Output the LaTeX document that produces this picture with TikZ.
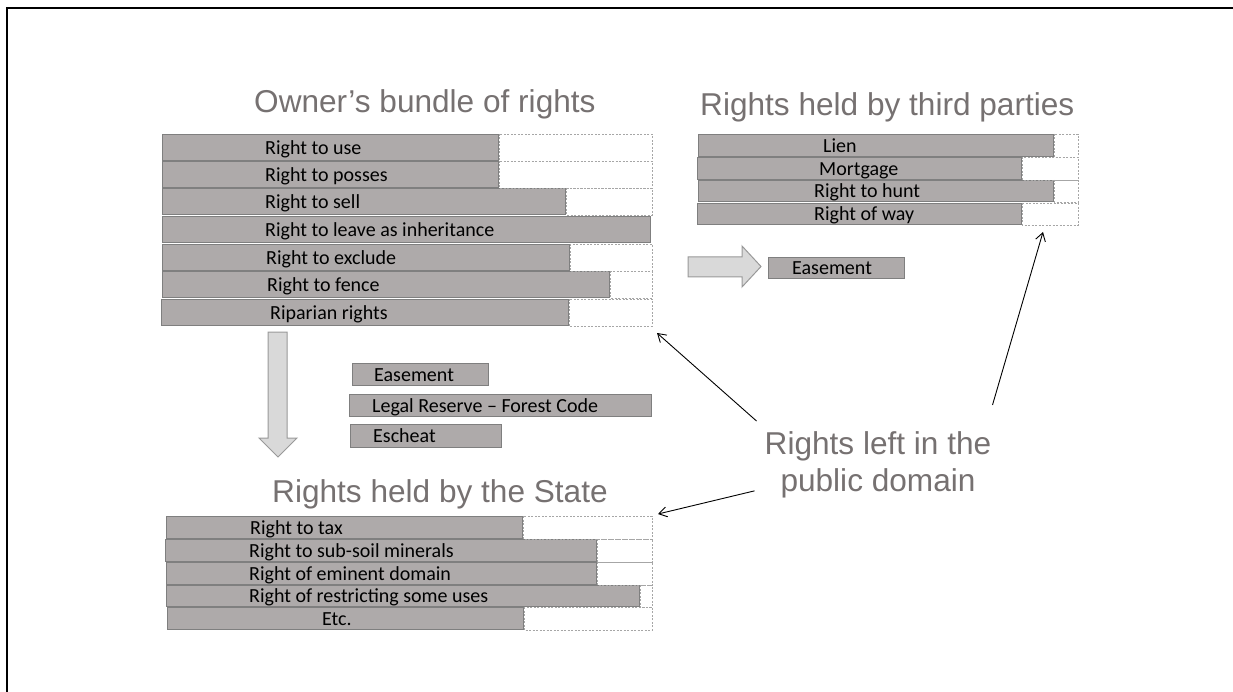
\documentclass[tikz,border=0pt]{standalone}
\usepackage{fontspec}
\setmainfont{Carlito}
\newfontfamily\headfont{Liberation Sans}
\usetikzlibrary{positioning, arrows.meta}
\definecolor{barfill}{HTML}{AEAAAA}
\definecolor{barline}{HTML}{7F7F7F}
\definecolor{headgray}{HTML}{767171}
\definecolor{arrowfill}{HTML}{D9D9D9}
\tikzset{
  bar/.style={
    draw=barline,
    fill=barfill,
    line width=1.2pt,
    anchor=north west,
    inner sep=0pt,
  },
  bar text/.style={
    anchor=west,
    inner sep=0pt,
    text height=13pt,
    text depth=0pt,
    font=\fontsize{20}{24}\selectfont,
  },
  gap/.style={
    draw=black!35,
    dash pattern=on 2pt off 1.5pt,
    line width=0.8pt,
  },
  heading/.style={
    text=headgray,
    inner sep=0pt,
    font=\headfont\fontsize{31.6}{37}\selectfont,
  },
  block arrow/.style={
    draw=black!40,
    fill=arrowfill,
    line width=1pt,
  },
  pointer/.style={
    -{Straight Barb[length=8pt,width=10pt]},
    line width=0.9pt,
  },
}

\begin{document}
\begin{tikzpicture}[x=1pt, y=-1pt]
      \useasboundingbox (0,0) rectangle (1233,692);
      \draw[line width=2.7pt] (7,692) -- (7,8) -- (1233,8);

      % owner's bundle
      \node[heading, anchor=base west] (owner) at (254,113) {Owner’s bundle of rights};
      \node[bar, minimum width=336pt, minimum height=26pt] (use)      at (162,134) {};
      \node[bar, minimum width=336pt, minimum height=26pt] (posses)   at (162,161) {};
      \node[bar, minimum width=403pt, minimum height=26pt] (sell)     at (162,188) {};
      \node[bar, minimum width=488pt, minimum height=26pt] (inherit)  at (162,216) {};
      \node[bar, minimum width=407pt, minimum height=26pt] (exclude)  at (162,244) {};
      \node[bar, minimum width=447pt, minimum height=26pt] (fence)    at (162,271) {};
      \node[bar, minimum width=407pt, minimum height=26pt] (riparian) at (161,299) {};
      \node[bar text, right=103pt of use.west]      (use text)      {Right to use};
      \node[bar text, right=103pt of posses.west]   (posses text)   {Right to posses};
      \node[bar text, right=103pt of sell.west]     (sell text)     {Right to sell};
      \node[bar text, right=103pt of inherit.west]  (inherit text)  {Right to leave as inheritance};
      \node[bar text, right=104pt of exclude.west]  (exclude text)  {Right to exclude};
      \node[bar text, right=105pt of fence.west]    (fence text)    {Right to fence};
      \node[bar text, right=109pt of riparian.west] (riparian text) {Riparian rights};
      \coordinate (owner end) at (652,0);
      \foreach \b in {use, posses, sell, exclude, fence, riparian}
        \draw[gap] (\b.north east) rectangle (\b.south -| owner end);

      % third parties
      \node[heading, anchor=base west] (third) at (700,116) {Rights held by third parties};
      \node[bar, minimum width=355pt, minimum height=22pt] (lien)     at (698,134) {};
      \node[bar, minimum width=324pt, minimum height=22pt] (mortgage) at (697,157) {};
      \node[bar, minimum width=355pt, minimum height=21pt] (hunt)     at (698,180) {};
      \node[bar, minimum width=324pt, minimum height=21pt] (way)      at (697,203) {};
      \node[bar text, right=125pt of lien.west]     (lien text)     {Lien};
      \node[bar text, right=122pt of mortgage.west] (mortgage text) {Mortgage};
      \node[bar text, right=116pt of hunt.west]     (hunt text)     {Right to hunt};
      \node[bar text, right=117pt of way.west]      (way text)      {Right of way};
      \coordinate (third end) at (1078,0);
      \foreach \b in {lien, mortgage, hunt, way}
        \draw[gap] (\b.north east) rectangle (\b.south -| third end);

      \draw[block arrow] (688,257) -- (742,257) -- (742,246) -- (761,266.5)
        -- (742,287) -- (742,277) -- (688,277) -- cycle;
      \node[bar, minimum width=136pt, minimum height=21pt] (easement b) at (768,257) {};
      \node[bar text, right=24pt of easement b.west] (easement b text) {Easement};

      % towards the state
      \draw[block arrow] (268,332) -- (287,332) -- (287,438) -- (297,438)
        -- (278,457) -- (259,438) -- (268,438) -- cycle;
      \node[bar, minimum width=136pt, minimum height=22pt] (easement a) at (352,363) {};
      \node[bar, minimum width=302pt, minimum height=22pt] (reserve)    at (349,394) {};
      \node[bar, minimum width=151pt, minimum height=23pt] (escheat)    at (350,424) {};
      \node[bar text, right=22pt of easement a.west] (easement a text) {Easement};
      \node[bar text, right=23pt of reserve.west]    (reserve text)    {Legal Reserve -- Forest Code};
      \node[bar text, right=23pt of escheat.west]    (escheat text)    {Escheat};

      % the state
      \node[heading, anchor=base west] (state) at (272,502) {Rights held by the State};
      \node[bar, minimum width=356pt, minimum height=22pt] (tax)      at (166,516) {};
      \node[bar, minimum width=431pt, minimum height=22pt] (subsoil)  at (165,539) {};
      \node[bar, minimum width=430pt, minimum height=22pt] (eminent)  at (166,562) {};
      \node[bar, minimum width=473pt, minimum height=21pt] (restrict) at (166,585) {};
      \node[bar, minimum width=356pt, minimum height=22pt] (etc)      at (167,607) {};
      \node[bar text, right=84pt of tax.west]       (tax text)      {Right to tax};
      \node[bar text, right=84pt of subsoil.west]   (subsoil text)  {Right to sub-soil minerals};
      \node[bar text, right=83pt of eminent.west]   (eminent text)  {Right of eminent domain};
      \node[bar text, right=83pt of restrict.west]  (restrict text) {Right of restricting some uses};
      \node[bar text, right=155pt of etc.west]      (etc text)      {Etc.};
      \coordinate (state end) at (652,0);
      \foreach \b in {tax, subsoil, eminent, restrict, etc}
        \draw[gap] (\b.north east) rectangle (\b.south -| state end);

      % public domain
      \node[heading, anchor=north, align=center] (public) at (878,431) {Rights left in the\\public domain};
      \coordinate (owner gap) at (657,333);
      \coordinate (third gap) at (1043,232);
      \coordinate (state gap) at (658,514);
      \draw[pointer] ([shift={(-8,-10)}]public.north west) -- (owner gap);
      \draw[pointer] ([shift={(1,-26)}]public.north east) -- (third gap);
      \draw[pointer] ([shift={(-10,-7)}]public.south west) -- (state gap);
    \end{tikzpicture}
\end{document}
